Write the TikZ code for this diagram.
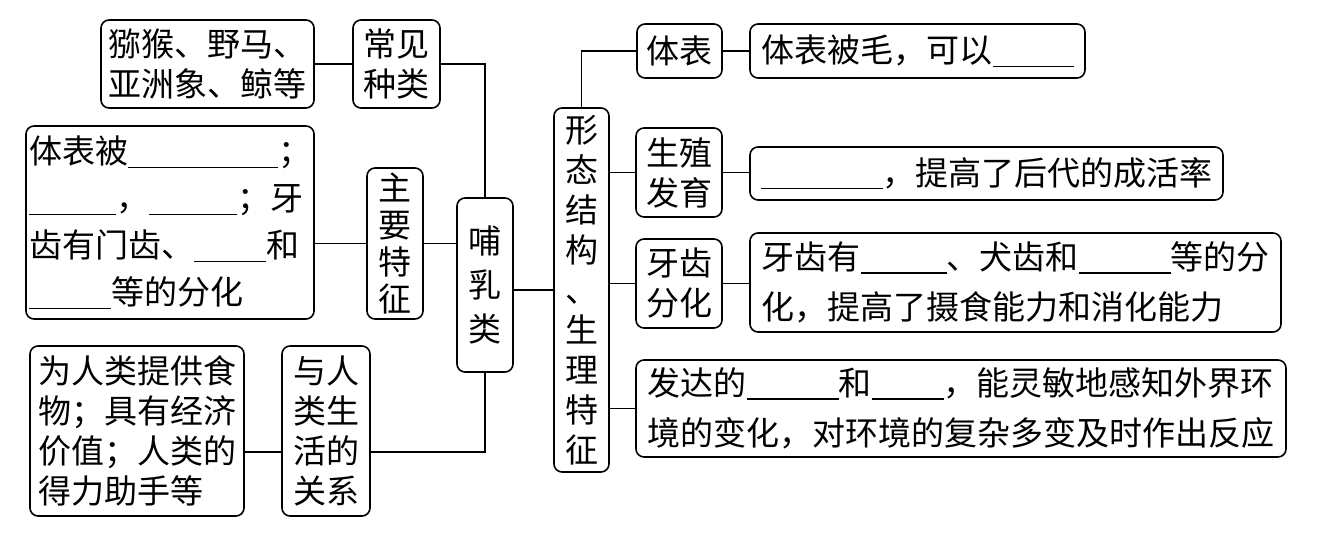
\documentclass[tikz,border=0pt]{standalone}
\usepackage{fontspec}
\newfontfamily\cjk{Noto Sans CJK SC}
\newcommand\pitch[1]{\fontsize{33}{#1}\selectfont}
\newcommand\blank[1]{\rule[-4pt]{#1pt}{1.3pt}}
\tikzset{
  box/.style={draw, line width=1.6pt, rounded corners=8pt, inner sep=0pt, align=left, font=\cjk\pitch{40}},
  boxsize/.style 2 args={minimum width=#1pt, minimum height=#2pt},
  link/.style={line width=1.6pt},
}
\begin{document}
\begin{tikzpicture}[x=1pt, y=-1pt]
\useasboundingbox (0,0) rectangle (1319,535);

% left half
\node (zl) [box, boxsize={213}{88}] at (207.5,64) {猕猴、野马、\\亚洲象、鲸等};
\node (cjzl) [box, boxsize={87}{88}, align=center] at (396.5,64) {常见\\种类};
\node (tzb) [box, boxsize={288}{193}, font=\cjk\pitch{47}] at (170,222.5)
  {体表被\blank{150}；\\\blank{87}，\blank{88}；牙\\齿有门齿、\blank{72}和\\\blank{82}等的分化};
\node (zytz) [box, boxsize={56}{151}, align=center, font=\cjk\pitch{37}] at (395,243.5) {主\\要\\特\\征};
\node (brl) [box, boxsize={56}{174}, align=center, font=\cjk\pitch{44}] at (485,285) {哺\\乳\\类};
\node (gx) [box, boxsize={214}{170}] at (137,431) {为人类提供食\\物；具有经济\\价值；人类的\\得力助手等};
\node (yrl) [box, boxsize={88}{170}, align=center] at (326,431) {与人\\类生\\活的\\关系};

% right half
\node (xt) [box, boxsize={55}{364}, align=center] at (581.5,290) {形\\态\\结\\构\\、\\生\\理\\特\\征};
\node (tb) [box, boxsize={85}{54}] at (679.5,51) {体表};
\node (tbm) [box, boxsize={335}{54}] at (917.5,51) {体表被毛，可以\blank{81}};
\node (szfy) [box, boxsize={86}{89}] at (679,172.5) {生殖\\发育};
\node (szt) [box, boxsize={473}{53}] at (986.5,173.5) {\blank{122}，提高了后代的成活率};
\node (yc) [box, boxsize={86}{89}] at (679,283.5) {牙齿\\分化};
\node (yct) [box, boxsize={531}{99}, font=\cjk\pitch{50}] at (1015.5,282.5)
  {牙齿有\blank{86}、犬齿和\blank{92}等的分\\化，提高了摄食能力和消化能力};
\node (fdt) [box, boxsize={650}{97}, font=\cjk\pitch{50}] at (961,408.5)
  {发达的\blank{92}和\blank{72}，能灵敏地感知外界环\\境的变化，对环境的复杂多变及时作出反应};

% connectors
\coordinate (yrlin) at ([yshift=-21pt]yrl.west);
\coordinate (yrlout) at ([yshift=-21pt]yrl.east);
\draw[link] (zl.east) -- (cjzl.west);
\draw[link] (cjzl.east) -| (brl.north);
\draw[link] (zytz.west) -- (zytz.west -| tzb.east);
\draw[link] (zytz.east) -- (zytz.east -| brl.west);
\draw[link] (yrlin) -- (yrlin -| gx.east);
\draw[link] (yrlout) -| (brl.south);
\draw[link] (xt.west) -- (xt.west -| brl.east);
\draw[link] (xt.north) |- (tb.west);
\foreach \n in {szfy,yc,fdt}
{
    \draw[link] (\n.west) -- (\n.west -| xt.east);
}
\foreach \a/\b in {tb/tbm,szfy/szt,yc/yct}
{
    \draw[link] (\a.east) -- (\a.east -| \b.west);
}
\end{tikzpicture}
\end{document}
